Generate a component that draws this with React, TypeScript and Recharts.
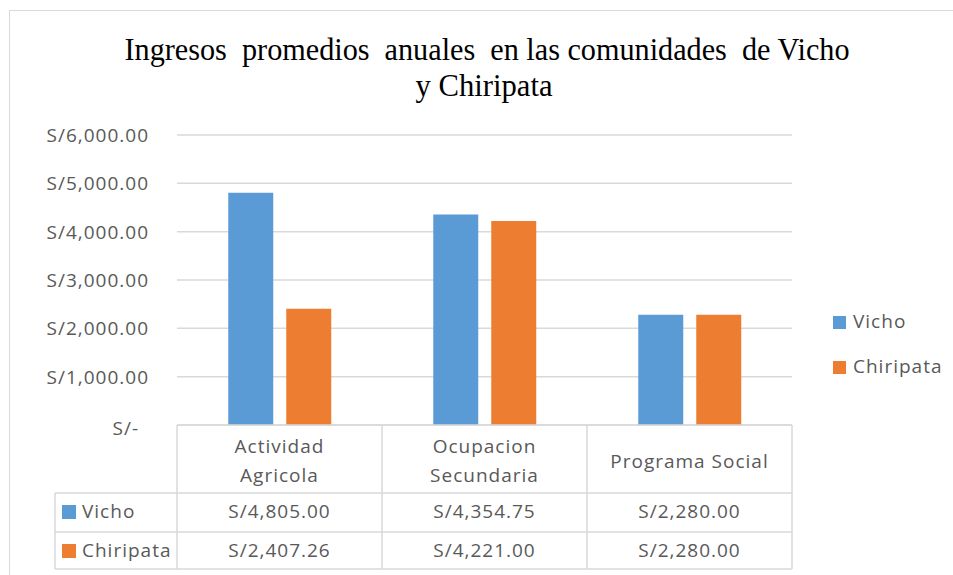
import { BarChart, Bar, XAxis, YAxis, CartesianGrid } from "recharts";

const categories = ["Actividad Agricola", "Ocupacion Secundaria", "Programa Social"];
const categoryLines = [["Actividad", "Agricola"], ["Ocupacion", "Secundaria"], ["Programa Social"]];
const vicho = [4805.0, 4354.75, 2280.0];
const chiripata = [2407.26, 4221.0, 2280.0];
const yTicks = [0, 1000, 2000, 3000, 4000, 5000, 6000];
const seriesNames = ["Vicho", "Chiripata"];
const seriesValues = [vicho, chiripata];
const colors = ["#5B9BD5", "#ED7D31"];
const titleLines = ["Ingresos  promedios  anuales  en las comunidades  de Vicho", "y Chiripata"];

const data = categories.map((c, i) => ({ category: c, vicho: vicho[i], chiripata: chiripata[i] }));

const W = 953;
const H = 575;
const PLOT_L = 177;
const PLOT_R = 792;
const PLOT_T = 135;
const PLOT_B = 425;
const ROW1 = 493;
const ROW2 = 532;
const ROW3 = 569;
const LABEL_L = 55;
const GRID = "#d9d9d9";
const TEXT = "#595959";
const FONT = "'Open Sans', sans-serif";
const LS = 1;

const money = (v: number) =>
  "S/" + v.toLocaleString("en-US", { minimumFractionDigits: 2, maximumFractionDigits: 2 });

function YTick(props: any) {
  const { y, payload } = props;
  const v = payload.value as number;
  if (v === 0) {
    return (
      <text x={139} y={y + 10} textAnchor="end" fontSize={19} letterSpacing={LS} fill={TEXT} fontFamily={FONT}>
        S/-
      </text>
    );
  }
  return (
    <text x={149} y={y + 7} textAnchor="end" fontSize={19} letterSpacing={LS} fill={TEXT} fontFamily={FONT}>
      {money(v)}
    </text>
  );
}

function XTick(props: any) {
  const { x, index } = props;
  const lines = categoryLines[index] || [];
  const base = lines.length > 1 ? PLOT_B + 28 : PLOT_B + 43;
  return (
    <g>
      {lines.map((l, k) => (
        <text
          key={k}
          x={x}
          y={base + k * 29}
          textAnchor="middle"
          fontSize={19}
          letterSpacing={LS}
          fill={TEXT}
          fontFamily={FONT}
        >
          {l}
        </text>
      ))}
    </g>
  );
}

export default function App() {
  const colW = (PLOT_R - PLOT_L) / categories.length;
  const colEdges = categories.map((_, i) => PLOT_L + colW * i).concat([PLOT_R]);
  return (
    <div style={{ position: "absolute", left: 0, top: 0, width: W, height: H, background: "#fff", overflow: "hidden" }}>
      <div
        style={{
          position: "absolute",
          left: 9,
          top: 10,
          width: W + 20,
          height: H + 20,
          border: "1px solid #d9d9d9",
        }}
      />
      <div style={{ position: "absolute", left: 0, top: 0 }}>
        <BarChart
          width={W}
          height={H}
          data={data}
          margin={{ top: PLOT_T, right: W - PLOT_R, bottom: H - PLOT_B - 68, left: 0 }}
          barCategoryGap="25%"
          barGap={13}
        >
          <CartesianGrid vertical={false} stroke={GRID} strokeWidth={1.5} />
          <XAxis
            dataKey="category"
            height={68}
            axisLine={{ stroke: GRID, strokeWidth: 1.5 }}
            tickLine={false}
            interval={0}
            tick={<XTick />}
          />
          <YAxis
            width={PLOT_L}
            domain={[0, 6000]}
            ticks={yTicks}
            axisLine={false}
            tickLine={false}
            tick={<YTick />}
          />
          <Bar dataKey="vicho" name={seriesNames[0]} fill={colors[0]} isAnimationActive={false} />
          <Bar dataKey="chiripata" name={seriesNames[1]} fill={colors[1]} isAnimationActive={false} />
        </BarChart>
      </div>
      <svg width={W} height={H} style={{ position: "absolute", left: 0, top: 0, pointerEvents: "none" }}>
        <text
          x={487}
          y={60}
          textAnchor="middle"
          fontSize={32}
          fontFamily="'Liberation Serif', serif"
          fill="#000"
          textLength={725}
          lengthAdjust="spacingAndGlyphs"
          style={{ whiteSpace: "pre" }}
        >
          {titleLines[0]}
        </text>
        <text
          x={484}
          y={96}
          textAnchor="middle"
          fontSize={32}
          fontFamily="'Liberation Serif', serif"
          fill="#000"
          textLength={137}
          lengthAdjust="spacingAndGlyphs"
        >
          {titleLines[1]}
        </text>
        {/* data table */}
        <g stroke={GRID} strokeWidth={1.5}>
          {colEdges.map((cx, i) => (
            <line key={i} x1={cx} x2={cx} y1={PLOT_B} y2={ROW3} />
          ))}
          <line x1={LABEL_L} x2={LABEL_L} y1={ROW1} y2={ROW3} />
          <line x1={LABEL_L} x2={PLOT_R} y1={ROW1} y2={ROW1} />
          <line x1={LABEL_L} x2={PLOT_R} y1={ROW2} y2={ROW2} />
          <line x1={LABEL_L} x2={PLOT_R} y1={ROW3} y2={ROW3} />
        </g>
        {seriesNames.map((name, r) => {
          const base = r === 0 ? 518 : 557;
          return (
            <g key={name}>
              <rect x={62} y={base - 13} width={14} height={14} fill={colors[r]} />
              <text x={82} y={base} fontSize={19} letterSpacing={LS} fill={TEXT} fontFamily={FONT}>
                {name}
              </text>
              {seriesValues[r].map((v, c) => (
                <text
                  key={c}
                  x={PLOT_L + colW * (c + 0.5)}
                  y={base}
                  textAnchor="middle"
                  fontSize={19}
                  letterSpacing={LS}
                  fill={TEXT}
                  fontFamily={FONT}
                >
                  {money(v)}
                </text>
              ))}
            </g>
          );
        })}
        {/* legend */}
        {seriesNames.map((name, r) => {
          const base = r === 0 ? 328 : 373;
          return (
            <g key={"lg" + name}>
              <rect x={833} y={base - 12} width={13} height={13} fill={colors[r]} />
              <text x={853} y={base} fontSize={19} letterSpacing={LS} fill={TEXT} fontFamily={FONT}>
                {name}
              </text>
            </g>
          );
        })}
      </svg>
    </div>
  );
}
